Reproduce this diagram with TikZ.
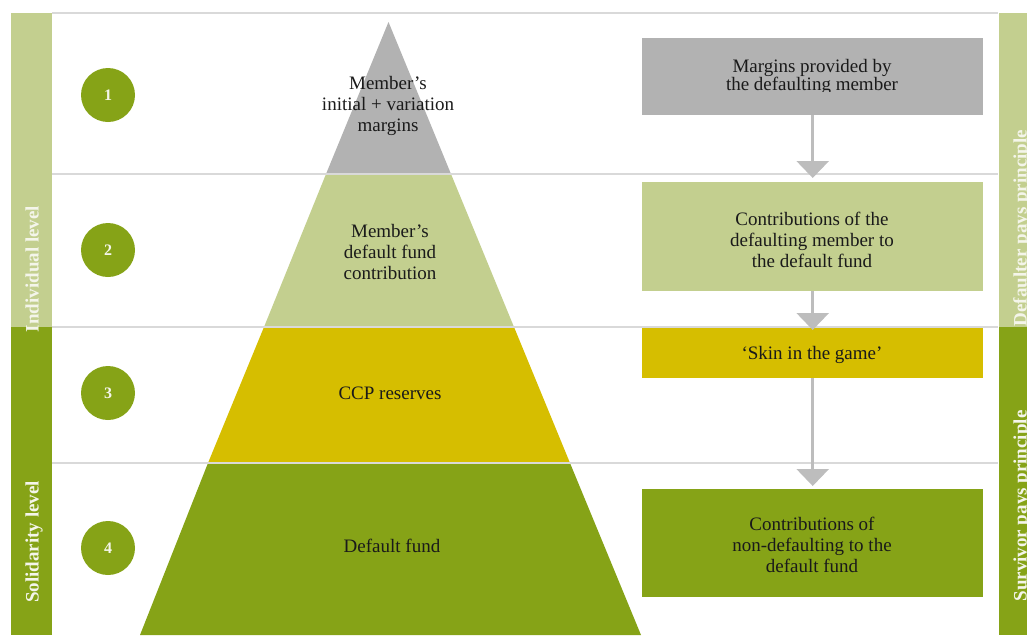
\documentclass[tikz,border=0pt]{standalone}
\usepackage{fontspec}
\setmainfont{Liberation Serif}
\usetikzlibrary{arrows.meta}

\definecolor{tiergrey}{HTML}{B2B2B2}
\definecolor{tierlight}{HTML}{C3CF8F}
\definecolor{tieryellow}{HTML}{D6BE00}
\definecolor{tierdark}{HTML}{86A317}
\definecolor{ruleline}{HTML}{D9D9D9}
\definecolor{flowgrey}{HTML}{BDBDBD}
\definecolor{bartext}{HTML}{F4F5EA}
\definecolor{ink}{HTML}{1A1A1A}

\tikzset{
  body/.style={font=\fontsize{19}{21}\selectfont, text=ink, align=center, inner sep=0pt},
  numdisc/.style={circle, fill=tierdark, minimum size=54pt, inner sep=0pt,
    text=bartext, font=\fontsize{16}{18}\selectfont\bfseries},
  barlabel/.style={rotate=90, anchor=base, inner sep=0pt, text=bartext,
    font=\fontsize{19}{21}\selectfont\bfseries},
  flowbox/.style={minimum width=341pt, inner sep=0pt, anchor=north west},
  flow/.style={draw=flowgrey, line width=3pt,
    -{Triangle[width=32pt,length=17pt]}},
  divider/.style={draw=ruleline, line width=2.5pt}
}

\begin{document}
\begin{tikzpicture}[x=1pt,y=-1pt]
\useasboundingbox (0,0) rectangle (1027,635);

% side bars
\fill[tierlight] (11,13) rectangle (52,327);
\fill[tierdark]  (11,327) rectangle (52,635);
\fill[tierlight] (999,13) rectangle (1027,327);
\fill[tierdark]  (999,327) rectangle (1027,635);

% pyramid layers (apex 388.5/22, base 140--641 at y=635)
\fill[tiergrey]   (388.5,22) -- (451,174) -- (326,174) -- cycle;
\fill[tierlight]  (326,174) -- (451,174) -- (514,327) -- (264,327) -- cycle;
\fill[tieryellow] (264,327) -- (514,327) -- (570,463) -- (208,463) -- cycle;
\fill[tierdark]   (208,463) -- (570,463) -- (641,635) -- (140,635) -- cycle;

% row dividers
\draw[divider] (52,13) -- (998,13);
\draw[divider] (52,174) -- (998,174);
\draw[divider] (52,327) -- (998,327);
\draw[divider] (52,463) -- (998,463);

% pyramid labels
\node[body] (p1) at (388,106) {Member’s\\initial + variation\\margins};
\node[body] (p2) at (390,252) {Member’s\\default fund\\contribution};
\node[body] (p3) at (390,393) {CCP reserves};
\node[body] (p4) at (392,546) {Default fund};

% numbered discs
\node[numdisc] (n1) at (108,95)  {1};
\node[numdisc] (n2) at (108,250) {2};
\node[numdisc] (n3) at (108,393) {3};
\node[numdisc] (n4) at (108,548) {4};

% side bar labels
\node[barlabel] (lvlA) at (38.5,269) {Individual level};
\node[barlabel] (lvlB) at (38.5,542) {Solidarity level};
\node[barlabel] (prA)  at (1026.5,228) {Defaulter pays principle};
\node[barlabel] (prB)  at (1026.5,506) {Survivor pays principle};

% right-hand boxes
\node[flowbox, fill=tiergrey,   minimum height=77pt]  (b1) at (642,38)  {};
\node[flowbox, fill=tierlight,  minimum height=109pt] (b2) at (642,182) {};
\node[flowbox, fill=tieryellow, minimum height=50pt]  (b3) at (642,328) {};
\node[flowbox, fill=tierdark,   minimum height=108pt] (b4) at (642,489) {};

\begin{scope}
  \clip (642,38) rectangle (983,91);
  \node[body, font=\fontsize{19}{18.5}\selectfont] (t1) at (812,77) {Margins provided by\\the defaulting member};
\end{scope}
\node[body] (t2) at (812,240) {Contributions of the\\defaulting member to\\the default fund};
\node[body] (t3) at (812,355) {‘Skin in the game’};
\node[body] (t4) at (812,545) {Contributions of\\non-defaulting to the\\default fund};

% flow arrows
\draw[flow, shorten >=4pt]  (b1.south) -- (b2.north);
\draw[flow, shorten >=-2pt] (b2.south) -- (b3.north);
\draw[flow, shorten >=3pt]  (b3.south) -- (b4.north);
\end{tikzpicture}
\end{document}
